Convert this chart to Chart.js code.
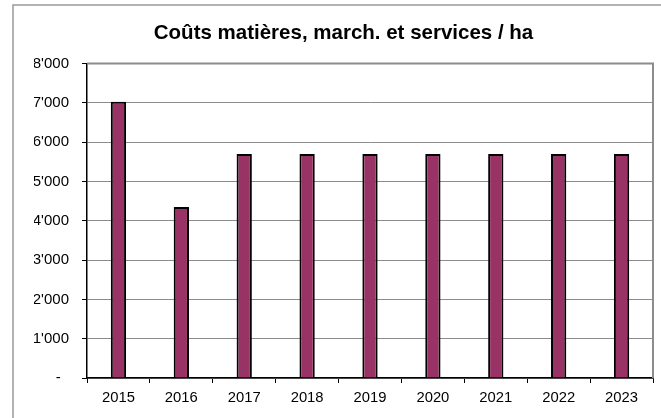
<!DOCTYPE html>
<html>
<head>
<meta charset="utf-8">
<script src="https://cdn.jsdelivr.net/npm/chart.js@4"></script>
<style>
	html, body { margin: 0; padding: 0; background: #fff; }
	#wrap { width: 661px; height: 418px; position: relative; }
</style>
</head>
<body>
<div id="wrap"><canvas id="chartCanvas"></canvas></div>
<script>
const titleText = 'Coûts matières, march. et services / ha';
const years = ['2015', '2016', '2017', '2018', '2019', '2020', '2021', '2022', '2023'];
const costs = [7030, 4350, 5700, 5700, 5700, 5700, 5700, 5700, 5700];
const yMax = 8000;
const yStep = 1000;

function formatTick(v) {
	if (v === 0) return '-  ';
	return String(v).replace(/\B(?=(\d{3})+(?!\d))/g, "'");
}

// outer frame + grey top/right border of the plot area
const frames = {
	id: 'frames',
	beforeDraw(chart) {
		const ctx = chart.ctx;
		ctx.save();
		ctx.strokeStyle = '#999';
		ctx.lineWidth = 1.5;
		ctx.beginPath();
		ctx.moveTo(13, 430);
		ctx.lineTo(13, 5);
		ctx.lineTo(680, 5);
		ctx.stroke();
		ctx.restore();
	},
	afterDatasetsDraw(chart) {
		const a = chart.chartArea;
		const ctx = chart.ctx;
		ctx.save();
		ctx.strokeStyle = '#8c8c8c';
		ctx.lineWidth = 2;
		ctx.beginPath();
		ctx.moveTo(a.left, a.top);
		ctx.lineTo(a.right, a.top);
		ctx.lineTo(a.right, a.bottom);
		ctx.stroke();
		ctx.restore();
	}
};

const ctx = document.getElementById('chartCanvas').getContext('2d');
new Chart(ctx, {
	type: 'bar',
	data: {
		labels: years,
		datasets: [{
			data: costs,
			backgroundColor: '#993366',
			borderColor: '#000',
			borderWidth: 2,
			borderSkipped: 'bottom',
			categoryPercentage: 1,
			barPercentage: 0.243
		}]
	},
	options: {
		responsive: true,
		maintainAspectRatio: false,
		animation: false,
		layout: { padding: { left: 34, right: 8, top: 0, bottom: 0 } },
		plugins: {
			legend: { display: false },
			tooltip: { enabled: false },
			title: {
				display: true,
				text: titleText,
				color: '#000',
				font: { family: 'Liberation Sans', size: 20.5, weight: 'bold' },
				padding: { top: 21, bottom: 18 }
			}
		},
		scales: {
			x: {
				offset: true,
				grid: {
					offset: true,
					drawOnChartArea: false,
					drawTicks: true,
					tickLength: 5,
					tickColor: '#000'
				},
				border: { color: '#000', width: 1.5 },
				ticks: {
					color: '#000',
					padding: 6,
					maxRotation: 0,
					font: { family: 'Liberation Sans', size: 14.8 }
				},
				afterFit(scale) { scale.height = 40; }
			},
			y: {
				min: 0,
				max: yMax,
				grid: {
					color: '#8c8c8c',
					tickColor: '#000',
					tickLength: 5
				},
				border: { color: '#000', width: 1.5 },
				ticks: {
					stepSize: yStep,
					color: '#000',
					padding: 13,
					font: { family: 'Liberation Sans', size: 15 },
					callback: formatTick
				},
				afterFit(scale) { scale.width = 53; }
			}
		}
	},
	plugins: [frames]
});
</script>
</body>
</html>
